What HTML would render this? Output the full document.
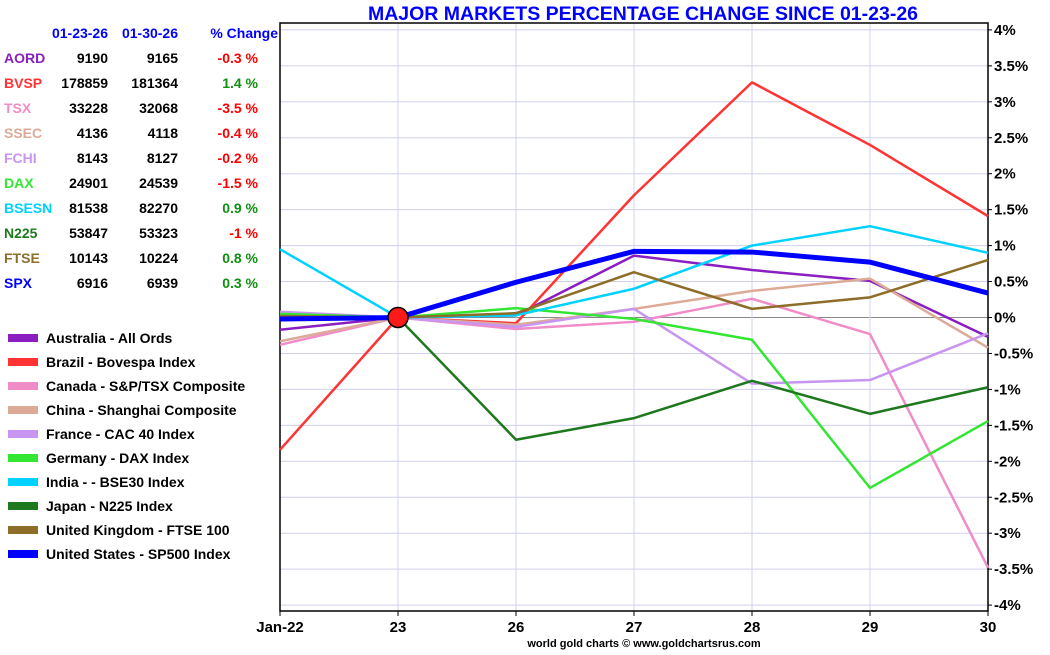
<!DOCTYPE html>
<html><head><meta charset="utf-8"><style>
body{margin:0;background:#fff;width:1050px;height:650px;overflow:hidden;font-family:"Liberation Sans",sans-serif}
svg text{font-family:"Liberation Sans",sans-serif;font-weight:bold}
</style></head><body>
<svg id="c" width="1050" height="650"></svg>
<script>
const categories=["Jan-22","23","26","27","28","29","30"];
const yTicks=[4,3.5,3,2.5,2,1.5,1,0.5,0,-0.5,-1,-1.5,-2,-2.5,-3,-3.5,-4];
const names=["AORD","BVSP","TSX","SSEC","FCHI","DAX","BSESN","N225","FTSE","SPX"];
const legendLabels=["Australia - All Ords","Brazil - Bovespa Index","Canada - S&P/TSX Composite","China - Shanghai Composite","France - CAC 40 Index","Germany - DAX Index","India -  - BSE30 Index","Japan - N225 Index","United Kingdom - FTSE 100","United States - SP500 Index"];
const colors=["#8a1ec0","#ff3333","#f08cc8","#dcaa96","#c896f0","#32e632","#00d2ff","#1e781e","#8c6e28","#0000ff"];
const startVals=["9190","178859","33228","4136","8143","24901","81538","53847","10143","6916"];
const endVals=["9165","181364","32068","4118","8127","24539","82270","53323","10224","6939"];
const pctChange=["-0.3","1.4","-3.5","-0.4","-0.2","-1.5","0.9","-1","0.8","0.3"];
const sAORD=[-0.17,0,0.03,0.86,0.66,0.51,-0.27];
const sBVSP=[-1.84,0,-0.08,1.70,3.27,2.40,1.41];
const sTSX=[-0.38,0,-0.16,-0.06,0.26,-0.23,-3.48];
const sSSEC=[-0.33,0,-0.10,0.12,0.37,0.54,-0.42];
const sFCHI=[0.08,0,-0.13,0.12,-0.92,-0.87,-0.22];
const sDAX=[0.05,0,0.13,-0.02,-0.31,-2.37,-1.44];
const sBSESN=[0.95,0,0.03,0.40,1.00,1.27,0.90];
const sN225=[0.0,0,-1.70,-1.40,-0.88,-1.34,-0.97];
const sFTSE=[0.02,0,0.06,0.63,0.12,0.28,0.80];
const sSPX=[-0.02,0,0.49,0.92,0.91,0.77,0.34];
const series=[sAORD,sBVSP,sTSX,sSSEC,sFCHI,sDAX,sBSESN,sN225,sFTSE,sSPX];

const svg=document.getElementById('c');const NS="http://www.w3.org/2000/svg";
const L=280,R=988,T=23,B=611;
const x=i=>L+i*(R-L)/(categories.length-1);
const y=v=>317.5-v*71.9;
function mk(t,a,p){const e=document.createElementNS(NS,t);for(const k in a)e.setAttribute(k,a[k]);(p||svg).appendChild(e);return e;}
function tx(s,a){const e=mk('text',a);e.textContent=s;return e;}
yTicks.forEach(v=>{const g=mk('line',{x1:L,x2:R,y1:y(v),y2:y(v),stroke:v===0?'#888':'#d0d0ee','stroke-width':1});

const t=tx(v+'%',{x:R+6,y:y(v)+5,'font-size':15,fill:'#000'});

mk('line',{x1:R,x2:R+4,y1:y(v),y2:y(v),stroke:'#000'});});
categories.forEach((c,i)=>{const g=mk('line',{x1:x(i),x2:x(i),y1:T,y2:B,stroke:'#d0d0ee'});

mk('line',{x1:x(i),x2:x(i),y1:B,y2:B+5,stroke:'#000'});
const t=tx(c,{x:x(i),y:632,'font-size':15,'text-anchor':'middle',fill:'#000'});
});
const fr=mk('rect',{x:L,y:T,width:R-L,height:B-T,fill:'none',stroke:'#000','stroke-width':1.5});

series.forEach((s,k)=>{const p=mk('polyline',{points:s.map((v,i)=>x(i)+','+y(v)).join(' '),fill:'none',stroke:colors[k],'stroke-width':k===9?5:2.5,'stroke-linejoin':'round'});
});
const dot=mk('circle',{cx:x(1),cy:y(0),r:10,fill:'#ff1a1a',stroke:'#000','stroke-width':1.5});

const ti=tx('MAJOR MARKETS PERCENTAGE CHANGE SINCE 01-23-26',{x:643,y:20,'font-size':19.5,'text-anchor':'middle',fill:'#0000ff'});

const cr=tx('world gold charts © www.goldchartsrus.com',{x:644,y:647,'font-size':11,'text-anchor':'middle',fill:'#000','font-weight':'normal'});

[['01-23-26',108],['01-30-26',178],['% Change',278]].forEach(h=>{const t=tx(h[0],{x:h[1],y:38,'font-size':14,'text-anchor':'end',fill:'#0000ff'});
});
names.forEach((n,k)=>{const yy=63+k*25;
const a=tx(n,{x:4,y:yy,'font-size':14,fill:colors[k]});
const b=tx(startVals[k],{x:108,y:yy,'font-size':14,'text-anchor':'end',fill:'#000'});
const c=tx(endVals[k],{x:178,y:yy,'font-size':14,'text-anchor':'end',fill:'#000'});
const d=tx(pctChange[k]+' %',{x:258,y:yy,'font-size':14,'text-anchor':'end',fill:parseFloat(pctChange[k])<0?'#ff0000':'#109010'});
const yl=338+k*24;
const sw=mk('rect',{x:8,y:yl-4,width:30,height:8,fill:colors[k]});
const lt=tx(legendLabels[k],{x:46,y:yl+5,'font-size':14,fill:'#000'});
});
</script>
</body></html>
